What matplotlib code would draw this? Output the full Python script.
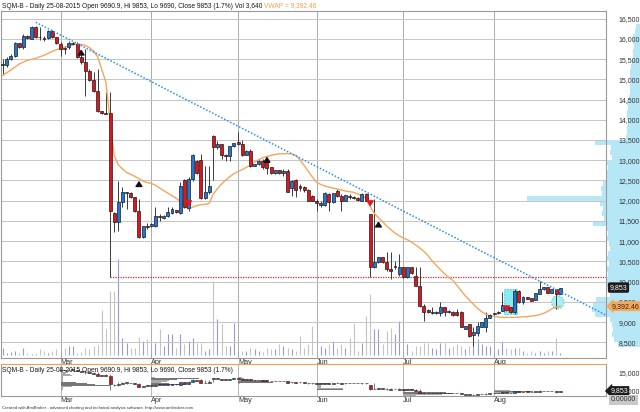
import numpy as np
import pandas as pd
import matplotlib
matplotlib.use("Agg")
import matplotlib.pyplot as plt
import matplotlib.transforms as mtransforms
from matplotlib.patches import Rectangle, Ellipse
from matplotlib.ticker import FuncFormatter

plt.rcParams['font.family'] = ['Liberation Sans', 'DejaVu Sans']

# trading days (Santiago exchange holidays removed)
holidays = ['2015-04-03', '2015-05-01', '2015-05-21', '2015-06-29', '2015-07-16']
dates = pd.bdate_range('2015-02-10', '2015-08-25')
dates = dates[~dates.isin(pd.to_datetime(holidays))]

opens = [15360, 15363, 15503, 15585, 15898, 15791, 16079, 15997, 16302, 16050,
         16000, 16022, 16203, 16038, 15873, 15760, 15791, 15880, 15873, 15544,
         15420, 15214, 14992, 14703, 14225, 14170, 14160, 11696, 11465, 11959,
         12190, 12190, 12083, 11737, 11111, 11370, 11366, 11366, 11620, 11572,
         11614, 11696, 11770, 11696, 12511, 11811, 12536, 12990, 13006, 12058,
         12206, 13608, 13319, 13402, 13120, 13112, 13360, 13459, 13402, 13129,
         13237, 12866, 12907, 12989, 12948, 12825, 12676, 12759, 12676, 12742,
         12314, 12520, 12371, 12330, 12272, 12124, 11984, 11893, 11893, 12165,
         11959, 12248, 12124, 12001, 12124, 12099, 12066, 12001, 12165, 11660,
         10353, 10477, 10600, 10477, 10312, 10353, 10188, 10353, 10105, 10353,
         10147, 9899, 9405, 9306, 9216, 9216, 9224, 9364, 9240, 9257,
         9257, 9257, 8837, 8952, 8688, 8721, 8886, 8886, 9100, 9190,
         9216, 9281, 9405, 9364, 9240, 9776, 9487, 9611, 9590, 9545,
         9693, 9809, 9858, 9726, 9809, 9690.9]
highs = [15500, 15544, 15620, 15915, 15910, 16121, 16100, 16327, 16330, 16285,
         16079, 16220, 16220, 16050, 15915, 15832, 15956, 15930, 15915, 15667,
         15750, 15255, 15173, 15255, 14230, 14679, 14679, 11712, 12495, 12330,
         12210, 12210, 12090, 12042, 11380, 11440, 11440, 11836, 11671, 11650,
         11836, 11852, 11780, 12454, 12536, 12577, 13154, 12999, 13154, 12866,
         12866, 13620, 13484, 13410, 13154, 13360, 13430, 13690, 13500, 13250,
         13278, 12920, 13000, 13031, 12989, 12840, 12770, 12770, 12784, 12784,
         12511, 12536, 12413, 12371, 12280, 12140, 12042, 12001, 12207, 12180,
         12190, 12289, 12165, 12150, 12165, 12110, 12080, 12190, 12180, 11671,
         12042, 10610, 10610, 10723, 10723, 10517, 10682, 10360, 10360, 10360,
         10353, 10353, 9446, 9320, 9380, 9270, 9487, 9380, 9290, 9270,
         9323, 9270, 8910, 8960, 8869, 8993, 9000, 9240, 9190, 9230,
         9270, 9751, 9420, 9380, 9817, 9790, 9652, 9620, 9600, 9720,
         10023, 9870, 9870, 9820, 9820, 9853]
lows = [15130, 15313, 15480, 15544, 15780, 15750, 16000, 15990, 16020, 15972,
        15956, 16000, 16020, 15870, 15585, 15626, 15750, 15860, 15530, 15379,
        14596, 14967, 14679, 14184, 14150, 14143, 10105, 11218, 11259, 11836,
        11795, 12060, 11712, 11078, 11090, 11300, 11350, 11342, 11507, 11560,
        11589, 11671, 11700, 11671, 11811, 11753, 12495, 12660, 12042, 12042,
        12165, 12511, 13278, 13031, 12990, 12990, 13340, 13377, 13112, 13120,
        12825, 12850, 12890, 12784, 12660, 12660, 12660, 12660, 12619, 12207,
        12124, 12099, 12248, 12207, 11990, 11990, 11753, 11836, 11877, 11753,
        11950, 12083, 11753, 11990, 12042, 12040, 12000, 11990, 11990, 10105,
        10340, 10470, 10470, 10271, 10064, 10312, 10147, 10100, 10100, 10190,
        9890, 9364, 9034, 9230, 9199, 9200, 9158, 9158, 9230, 9160,
        9158, 8870, 8820, 8622, 8416, 8663, 8880, 8746, 9090, 9180,
        9200, 9265, 9280, 9230, 9199, 9470, 9446, 9560, 9520, 9540,
        9690, 9800, 9710, 9710, 9323, 9690]
closes = [15380, 15503, 15585, 15898, 15791, 16079, 16022, 16302, 16038, 16038,
          15997, 16187, 16038, 15890, 15750, 15750, 15890, 15900, 15544, 15420,
          15214, 14992, 14720, 14225, 14168, 14150, 11753, 11465, 11959, 12206,
          12200, 12083, 11753, 11111, 11366, 11350, 11424, 11614, 11600, 11630,
          11729, 11795, 11712, 12371, 11836, 12536, 13129, 12676, 12058, 12206,
          12355, 13319, 13402, 13129, 13112, 13344, 13418, 13402, 13129, 13237,
          12866, 12907, 12989, 12825, 12808, 12676, 12759, 12676, 12742, 12223,
          12495, 12272, 12314, 12272, 12001, 12001, 11935, 11943, 12182, 11959,
          12182, 12124, 11984, 12141, 12083, 12058, 12017, 12165, 12001, 10353,
          10477, 10600, 10477, 10312, 10271, 10394, 10353, 10105, 10353, 10204,
          9899, 9405, 9257, 9240, 9257, 9257, 9364, 9257, 9281, 9174,
          9174, 8886, 8895, 8664, 8746, 8911, 8993, 9100, 9183, 9216,
          9257, 9421, 9298, 9240, 9759, 9487, 9611, 9570, 9529, 9710,
          9809, 9858, 9726, 9809, 9693, 9853]
# volume, thousand shares
volume = [12.6, 3.6, 5.4, 7.2, 3.6, 12.6, 3.6, 1.8, 3.6, 10.8,
          7.2, 3.6, 7.2, 10.8, 5.4, 12.6, 16.2, 16.2, 3.6, 5.4,
          12.6, 10.8, 16.2, 18.0, 81.0, 46.8, 115.2, 115.2, 172.8, 30.6,
          21.6, 12.6, 12.6, 32.4, 25.2, 28.8, 12.6, 21.6, 46.8, 16.2,
          37.8, 37.8, 12.6, 37.8, 19.8, 25.2, 30.6, 21.6, 21.6, 7.2,
          10.8, 133.2, 64.8, 55.8, 16.2, 16.2, 57.6, 10.8, 7.2, 7.2,
          12.6, 10.8, 7.2, 5.4, 12.6, 10.8, 10.8, 19.8, 16.2, 12.6,
          10.8, 7.2, 34.2, 12.6, 19.8, 52.2, 7.2, 16.2, 12.6, 19.8,
          25.2, 12.6, 19.8, 12.6, 30.6, 57.6, 7.2, 21.6, 70.2, 109.8,
          46.8, 46.8, 19.8, 43.2, 48.6, 37.8, 61.2, 12.6, 19.8, 7.2,
          16.2, 16.2, 21.6, 21.6, 12.6, 10.8, 21.6, 21.6, 12.6, 16.2,
          19.8, 16.2, 10.8, 16.2, 21.6, 28.8, 19.8, 16.2, 16.2, 7.2,
          10.8, 25.2, 12.6, 10.8, 12.6, 12.6, 7.2, 3.6, 7.2, 3.6,
          7.2, 3.6, 7.2, 7.2, 30.6, 3.64]
vwap = [15091, 15165, 15231, 15305, 15379, 15428, 15470, 15494, 15519, 15560,
        15593, 15643, 15692, 15733, 15766, 15799, 15824, 15857, 15865, 15865,
        15840, 15783, 15700, 15560, 15247, 14926, 13978, 13113, 12890, 12783,
        12701, 12652, 12602, 12544, 12487, 12446, 12429, 12380, 12314, 12248,
        12190, 12124, 12058, 11992, 11894, 11795, 11844, 11877, 11902, 11910,
        11935, 12165, 12297, 12413, 12512, 12594, 12668, 12726, 12767, 12825,
        12874, 12956, 13014, 13064, 13096, 13121, 13146, 13158, 13162, 13166,
        13154, 13121, 13006, 12874, 12726, 12586, 12454, 12404, 12363, 12338,
        12314, 12289, 12264, 12240, 12223, 12207, 12165, 12132, 12058, 11852,
        11688, 11580, 11482, 11374, 11284, 11201, 11135, 11078, 11036, 10979,
        10905, 10831, 10748, 10641, 10509, 10402, 10295, 10196, 10105, 10031,
        9908, 9776, 9652, 9545, 9438, 9339, 9257, 9191, 9158, 9141,
        9125, 9117, 9117, 9117, 9117, 9125, 9129, 9133, 9150, 9158,
        9183, 9216, 9265, 9331, 9372, 9392.46]

# volume-at-price histogram (bins of 125 from 8,375)
vap_price = np.arange(8437.5, 16375, 125)
vap_volume = [22, 26, 28, 27, 28, 30, 45, 48, 47, 44,
              30, 31, 34, 33, 32, 33, 31, 33, 32, 30,
              31, 33, 32, 34, 47, 36, 38, 37, 40, 113,
              38, 39, 37, 33, 34, 32, 33, 28, 30, 29,
              45, 14, 13, 13, 12, 13, 13, 12, 13, 11,
              10, 10, 9, 10, 10, 9, 8, 7, 7, 6,
              7, 7, 5, 4]

buy_idx = [19, 33, 64, 91]
buy_price = [15700, 12450, 13050, 11450]
sell_idx = [45, 89, 122]
sell_price = [11900, 11900, 9300]

trend_idx = [8, 146]
trend_price = [16411, 9176]
support_idx = 26
support_price = 10120
box_idx = [122, 124]
ring_idx, ring_price = 134.4, 9490

month_names = ['Mar', 'Apr', 'May', 'Jun', 'Jul', 'Aug']

o, hi, lo, c = map(np.array, (opens, highs, lows, closes))
vol = np.array(volume)
idx = np.arange(len(dates))
up = c >= o
month_pos = [int(np.argmax(dates.month == m)) for m in range(3, 9)]

W, H = 640, 412


def box(x0, y0, x1, y1):
    return [x0 / W, 1 - y1 / H, (x1 - x0) / W, (y1 - y0) / H]


fig = plt.figure(figsize=(W / 100, H / 100), dpi=100)
xlim = (-0.41, 146.1)
ylim_main = (8112, 16690)
money = FuncFormatter(lambda v, _: f'{v:,.0f}')
shift = mtransforms.ScaledTranslation(2 / 100, 0, fig.dpi_scale_trans)

# volume at price, anchored to the right edge
vap_ax = fig.add_axes(box(480, 11, 640, 358))
vap_ax.set_zorder(-2)
vap_ax.barh(vap_price, vap_volume, height=125, color='#b6e7f7', linewidth=0)
vap_ax.set_xlim(160, 0)
vap_ax.set_ylim(ylim_main)
vap_ax.axis('off')

ax = fig.add_axes(box(1, 11, 606, 358))
ax.patch.set_visible(False)
axv = ax.twinx()
axv.set_zorder(-1)
axv.vlines(idx, 0, vol, colors=np.where(up, '#9a9ad0', '#c4c4c4'), linewidth=0.8)
axv.set_ylim(-5.4, 619)
axv.axis('off')

ax.set_xlim(xlim)
ax.set_ylim(ylim_main)
ax.set_yticks(np.arange(8500, 16501, 500))
ax.yaxis.set_major_formatter(money)
ax.set_xticks(month_pos)
ax.set_xticklabels(month_names, ha='left')
for t in ax.get_xticklabels():
    t.set_transform(t.get_transform() + shift)
ax.tick_params(axis='y', left=False, right=False, labelleft=False, labelright=True,
               pad=5.5, labelsize=5.0, labelcolor='#333333')
ax.tick_params(axis='x', length=0, pad=0.5, labelsize=5.2, labelcolor='#333333')
ax.grid(axis='y', color='#c6c6c6', linewidth=0.7)
ax.grid(axis='x', color='#ababab', linewidth=0.7)
ax.set_axisbelow(True)
for s in ax.spines.values():
    s.set_color('#9a9a9a')
    s.set_linewidth(0.8)

# highlight box and ring
b0, b1 = box_idx
ax.add_patch(Rectangle((b0 - 0.5, lo[b0:b1 + 1].min()), b1 - b0 + 1,
                       hi[b0:b1 + 1].max() - lo[b0:b1 + 1].min(),
                       facecolor='#86ecf2', edgecolor='#2cc6de', linestyle=':',
                       linewidth=0.8, zorder=1.5))
ax.add_patch(Ellipse((ring_idx, ring_price), 3.0, 330, facecolor='#a8eef2',
                     edgecolor='#2cc6de', linestyle=':', linewidth=0.8, zorder=1.5))

# candles
ax.vlines(idx, lo, hi, colors='#3a3a3a', linewidth=0.7, zorder=2)
ax.plot(idx, vwap, color='#f5a65c', linewidth=1.0, zorder=2.5)
ax.bar(idx, np.maximum(np.abs(c - o), 20), bottom=np.minimum(o, c), width=0.72,
       color=np.where(up, '#1f78d8', '#e4121c'), edgecolor='#1a1a1a',
       linewidth=0.5, zorder=3)

ax.plot(trend_idx, trend_price, color='#2b8df0', linewidth=1.1,
        linestyle=(0, (1, 1.2)), zorder=4)
ax.hlines(support_price, support_idx, xlim[1], colors='#e02424',
          linestyles=(0, (1, 1)), linewidth=0.9, zorder=1.8)

for i, p in zip(buy_idx, buy_price):
    ax.annotate('', xy=(i, p + 110), xytext=(i, p - 110),
                arrowprops=dict(arrowstyle='-|>,head_width=0.2,head_length=0.3',
                                color='#111111', lw=1.1), zorder=5)
for i, p in zip(sell_idx, sell_price):
    ax.annotate('', xy=(i, p - 110), xytext=(i, p + 110),
                arrowprops=dict(arrowstyle='-|>,head_width=0.2,head_length=0.3',
                                color='#e8141c', lw=1.1), zorder=5)

ax.annotate(f'{closes[-1]:,.0f}', xy=(1, closes[-1]), xycoords=('axes fraction', 'data'),
            xytext=(2.6, 0), textcoords='offset points', ha='left', va='center',
            fontsize=5.0, color='white', annotation_clip=False, zorder=10,
            bbox=dict(boxstyle='round,pad=0.25,rounding_size=0.25', fc='#1c1c1c', ec='none'))
ax.annotate(f'{vwap[-1]:,.2f}', xy=(1, vwap[-1]), xycoords=('axes fraction', 'data'),
            xytext=(4.0, 0), textcoords='offset points', ha='left', va='center',
            fontsize=5.0, color='#262626', annotation_clip=False, zorder=10,
            bbox=dict(boxstyle='larrow,pad=0.2', fc='#f7a856', ec='none'))

t1 = fig.text(2 / W, 1 - 6 / H,
              'SQM-B - Daily 25-08-2015 Open 9690.9, Hi 9853, Lo 9690, Close 9853 (1.7%) Vol 3,640 ',
              fontsize=4.8, va='center', color='#1a1a1a')
ax.annotate(f'VWAP = {vwap[-1]:,.2f}', xy=(1, 0.5), xycoords=t1, ha='left', va='center',
            fontsize=4.8, color='#f0a050', annotation_clip=False)

# lower pane: monthly volume profile with mini candles
ax2 = fig.add_axes(box(1, 364, 606, 396))
ax2.set_xlim(xlim)
ax2.set_ylim(8422, 17574)
edges = np.arange(8000, 17001, 250)
for k, m in enumerate(range(3, 9)):
    sel = np.where(dates.month == m)[0]
    prof = np.zeros(len(edges) - 1)
    for i in sel:
        ov = np.clip(np.minimum(edges[1:], hi[i]) - np.maximum(edges[:-1], lo[i]), 0, None)
        if ov.sum() > 0:
            prof += vol[i] * ov / ov.sum()
    order = np.argsort(prof)[::-1]
    va = np.zeros(len(prof), bool)
    va[order[np.cumsum(prof[order]) <= 0.7 * prof.sum()]] = True
    widths = prof / prof.max() * len(sel) * 0.55
    ax2.barh(edges[:-1] + 125, widths, height=250, left=month_pos[k],
             color=np.where(va, '#767676', '#a9a9a9'), linewidth=0)
mini = idx >= month_pos[0]
ax2.vlines(idx[mini], lo[mini], hi[mini], colors='#444444', linewidth=0.5)
ax2.bar(idx[mini], np.maximum(np.abs(c - o), 150)[mini], bottom=np.minimum(o, c)[mini],
        width=0.72, color=np.where(up, '#1f78d8', '#e4121c')[mini],
        edgecolor='#1a1a1a', linewidth=0.4)
ax2.set_yticks([10000, 15000])
ax2.yaxis.set_major_formatter(money)
ax2.set_xticks(month_pos)
ax2.set_xticklabels(month_names, ha='left')
for t in ax2.get_xticklabels():
    t.set_transform(t.get_transform() + shift)
ax2.tick_params(axis='y', left=False, right=False, labelleft=False, labelright=True,
                pad=5.5, labelsize=5.0, labelcolor='#333333')
ax2.tick_params(axis='x', length=0, pad=1, labelsize=5.2, labelcolor='#333333')
ax2.grid(axis='x', color='#b4b4b4', linewidth=0.7)
ax2.set_axisbelow(True)
for s in ax2.spines.values():
    s.set_color('#9a9a9a')
    s.set_linewidth(0.8)
ax2.spines['top'].set_color('#f0a050')
ax2.spines['top'].set_linestyle((0, (1, 1)))
ax2.annotate(f'{closes[-1]:,.0f}', xy=(1, closes[-1]), xycoords=('axes fraction', 'data'),
             xytext=(3.0, 0), textcoords='offset points', ha='left', va='center',
             fontsize=5.0, color='white', annotation_clip=False, zorder=10,
             bbox=dict(boxstyle='larrow,pad=0.2', fc='#1c1c1c', ec='none'))
ax2.annotate('0.00000', xy=(1, -0.12), xycoords='axes fraction',
             xytext=(3.5, 0), textcoords='offset points', ha='left', va='center',
             fontsize=5.0, color='#333333', annotation_clip=False, zorder=10,
             bbox=dict(boxstyle='square,pad=0.2', fc='#c8c8c8', ec='none'))
fig.text(2 / W, 1 - 370.5 / H,
         'SQM-B - Daily 25-08-2015 Open 9690.9, Hi 9853, Lo 9690, Close 9853 (1.7%)',
         fontsize=4.8, va='center', color='#1a1a1a')
fig.text(2 / W, 1 - 407.5 / H,
         'Created with AmiBroker - advanced charting and technical analysis software. http://www.amibroker.com',
         fontsize=3.1, va='center', color='#333333')

fig.savefig('out.png', dpi=100, facecolor='white')
